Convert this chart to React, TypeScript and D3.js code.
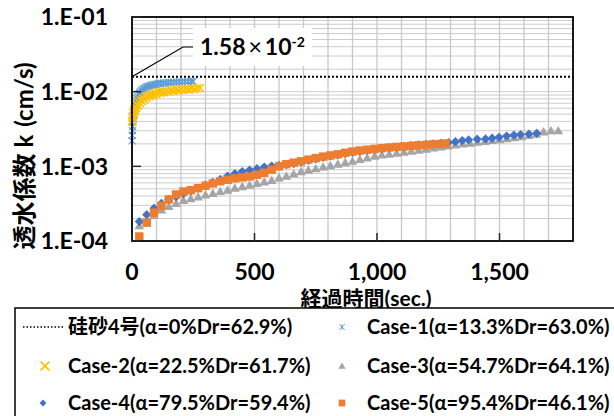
import React from "react";
import * as d3 from "d3";

// ---- data ----
const case1T = [0, 1, 2, 3, 4, 5, 6, 8, 10, 12, 14, 17, 20, 23, 27, 31, 35, 40, 45, 50, 56, 62, 69, 76, 84, 92, 100, 109, 118, 128, 138, 148, 159, 170, 181, 193, 205, 217, 229, 241, 250];
const case1K = [2.2e-3, 2.6e-3, 3.0e-3, 3.4e-3, 3.9e-3, 4.3e-3, 4.8e-3, 5.4e-3, 6.0e-3, 6.5e-3, 7.0e-3, 7.6e-3, 8.1e-3, 8.6e-3, 9.1e-3, 9.6e-3, 1.0e-2, 1.04e-2, 1.08e-2, 1.11e-2, 1.14e-2, 1.17e-2, 1.19e-2, 1.21e-2, 1.23e-2, 1.25e-2, 1.26e-2, 1.28e-2, 1.29e-2, 1.3e-2, 1.31e-2, 1.32e-2, 1.33e-2, 1.34e-2, 1.34e-2, 1.35e-2, 1.35e-2, 1.36e-2, 1.36e-2, 1.37e-2, 1.37e-2];

const case2T = [0, 2, 4, 6, 8, 10, 12, 15, 18, 21, 24, 28, 32, 36, 40, 45, 50, 55, 60, 66, 72, 78, 85, 92, 99, 107, 115, 123, 132, 141, 150, 160, 170, 180, 190, 200, 211, 222, 233, 244, 255, 266, 278];
const case2K = [4.0e-3, 4.6e-3, 4.4e-3, 5.2e-3, 5.0e-3, 5.7e-3, 5.5e-3, 6.2e-3, 6.0e-3, 6.7e-3, 6.5e-3, 7.2e-3, 7.0e-3, 7.7e-3, 7.5e-3, 8.1e-3, 7.9e-3, 8.5e-3, 8.3e-3, 8.9e-3, 8.7e-3, 9.2e-3, 9.0e-3, 9.5e-3, 9.3e-3, 9.8e-3, 9.6e-3, 1.0e-2, 9.8e-3, 1.02e-2, 1.0e-2, 1.04e-2, 1.02e-2, 1.06e-2, 1.04e-2, 1.08e-2, 1.06e-2, 1.09e-2, 1.07e-2, 1.1e-2, 1.08e-2, 1.11e-2, 1.12e-2];

const case3T = [30, 60, 90, 120, 150, 180, 210, 240, 270, 300, 330, 360, 390, 420, 450, 480, 510, 540, 570, 600, 630, 660, 690, 720, 750, 780, 810, 840, 870, 900, 930, 960, 990, 1020, 1050, 1080, 1110, 1140, 1170, 1200, 1230, 1260, 1290, 1320, 1350, 1380, 1410, 1440, 1470, 1500, 1530, 1560, 1590, 1620, 1650, 1680, 1710, 1740];
const case3K = [1.6e-4, 1.9e-4, 2.2e-4, 2.6e-4, 2.9e-4, 3.2e-4, 3.5e-4, 3.7e-4, 3.9e-4, 4.15e-4, 4.35e-4, 4.6e-4, 4.8e-4, 5.1e-4, 5.35e-4, 5.6e-4, 5.9e-4, 6.2e-4, 6.5e-4, 7.0e-4, 7.4e-4, 7.9e-4, 8.5e-4, 8.9e-4, 9.3e-4, 9.8e-4, 1.02e-3, 1.07e-3, 1.12e-3, 1.17e-3, 1.24e-3, 1.3e-3, 1.37e-3, 1.42e-3, 1.46e-3, 1.5e-3, 1.55e-3, 1.6e-3, 1.65e-3, 1.7e-3, 1.76e-3, 1.82e-3, 1.88e-3, 1.94e-3, 2.0e-3, 2.05e-3, 2.1e-3, 2.16e-3, 2.22e-3, 2.28e-3, 2.35e-3, 2.42e-3, 2.5e-3, 2.6e-3, 2.7e-3, 2.9e-3, 3.0e-3, 3.0e-3];

const case4T = [30, 60, 90, 120, 150, 180, 210, 240, 270, 300, 330, 360, 390, 420, 450, 480, 510, 540, 570, 600, 630, 660, 690, 720, 750, 780, 810, 840, 870, 900, 930, 960, 990, 1020, 1050, 1080, 1110, 1140, 1170, 1200, 1230, 1260, 1292, 1320, 1348, 1374, 1409, 1443, 1470, 1498, 1529, 1559, 1586, 1620, 1652];
const case4K = [1.82e-4, 2.25e-4, 2.75e-4, 3.2e-4, 3.6e-4, 3.9e-4, 4.3e-4, 4.7e-4, 5.1e-4, 5.6e-4, 6.1e-4, 6.7e-4, 7.4e-4, 8.0e-4, 8.5e-4, 8.9e-4, 9.3e-4, 9.8e-4, 1.01e-3, 1.03e-3, 1.05e-3, 1.09e-3, 1.14e-3, 1.2e-3, 1.26e-3, 1.32e-3, 1.37e-3, 1.42e-3, 1.48e-3, 1.54e-3, 1.59e-3, 1.64e-3, 1.68e-3, 1.72e-3, 1.76e-3, 1.8e-3, 1.84e-3, 1.9e-3, 1.94e-3, 1.97e-3, 2.0e-3, 2.03e-3, 2.08e-3, 2.14e-3, 2.21e-3, 2.26e-3, 2.31e-3, 2.33e-3, 2.38e-3, 2.45e-3, 2.55e-3, 2.61e-3, 2.66e-3, 2.71e-3, 2.77e-3];

const case5T = [30, 60, 90, 120, 150, 180, 210, 240, 270, 300, 330, 360, 390, 420, 450, 480, 510, 540, 570, 600, 630, 660, 690, 720, 750, 780, 810, 840, 870, 900, 930, 960, 990, 1020, 1050, 1080, 1110, 1140, 1170, 1200, 1230, 1260, 1280];
const case5K = [1.15e-4, 1.76e-4, 2.4e-4, 2.95e-4, 3.6e-4, 4.2e-4, 4.6e-4, 4.8e-4, 5.1e-4, 5.5e-4, 5.9e-4, 6.3e-4, 6.6e-4, 6.9e-4, 7.1e-4, 7.3e-4, 7.7e-4, 8.2e-4, 9.0e-4, 1.0e-3, 1.07e-3, 1.12e-3, 1.17e-3, 1.23e-3, 1.29e-3, 1.35e-3, 1.4e-3, 1.45e-3, 1.52e-3, 1.58e-3, 1.63e-3, 1.67e-3, 1.71e-3, 1.75e-3, 1.79e-3, 1.82e-3, 1.85e-3, 1.88e-3, 1.91e-3, 1.94e-3, 1.97e-3, 2.0e-3, 2.02e-3];

const silicaK = 1.58e-2;
const yTickLabels = ["1.E-01", "1.E-02", "1.E-03", "1.E-04"];
const yTickValues = [1e-1, 1e-2, 1e-3, 1e-4];
const xTickValues = [0, 500, 1000, 1500];
const legendLabels = [
  "硅砂4号(α=0%Dr=62.9%)",
  "Case-1(α=13.3%Dr=63.0%)",
  "Case-2(α=22.5%Dr=61.7%)",
  "Case-3(α=54.7%Dr=64.1%)",
  "Case-4(α=79.5%Dr=59.4%)",
  "Case-5(α=95.4%Dr=46.1%)",
];

const FONT = "Lato, 'Noto Sans CJK JP', sans-serif";

type Kind = "star" | "x" | "tri" | "dia" | "sq";

const series: { t: number[]; k: number[]; kind: Kind; color: string }[] = [
  { t: case1T, k: case1K, kind: "star", color: "#5B9BD5" },
  { t: case2T, k: case2K, kind: "x", color: "#FFC000" },
  { t: case3T, k: case3K, kind: "tri", color: "#A5A5A5" },
  { t: case4T, k: case4K, kind: "dia", color: "#4472C4" },
  { t: case5T, k: case5K, kind: "sq", color: "#ED7D31" },
];

function Marker({ kind, color, x, y, s = 1 }: { kind: Kind; color: string; x: number; y: number; s?: number }) {
  const tr = `translate(${x},${y}) scale(${s})`;
  if (kind === "star")
    return <path transform={tr} d="M-3.5,-3.5L3.5,3.5M-3.5,3.5L3.5,-3.5M0,-3.8L0,3.8" stroke={color} strokeWidth={1.1} fill="none" />;
  if (kind === "x")
    return <path transform={tr} d="M-4,-4L4,4M-4,4L4,-4" stroke={color} strokeWidth={1.5} fill="none" />;
  if (kind === "tri") return <path transform={tr} d="M0,-4.8L4.8,3.6L-4.8,3.6Z" fill={color} />;
  if (kind === "dia") return <path transform={tr} d="M0,-4.6L4.6,0L0,4.6L-4.6,0Z" fill={color} />;
  return <rect transform={tr} x={-4.2} y={-4.2} width={8.4} height={8.4} fill={color} />;
}

export default function App() {
  const left = 132, right = 573, top = 17, bottom = 241;
  const x = d3.scaleLinear().domain([0, 1800]).range([left, right]);
  const y = d3.scaleLog().domain([1e-4, 1e-1]).range([bottom, top]);

  const minorY: number[] = [];
  for (let e = -4; e < -1; e++) for (let m = 1; m <= 9; m++) minorY.push(m * Math.pow(10, e));
  const gridX = d3.range(100, 1800, 100);

  const yS = y(silicaK);

  return (
    <svg width={614} height={416} style={{ position: "absolute", left: 0, top: 0, background: "#fff" }} fontFamily={FONT} fontWeight="bold">
      <rect width={614} height={416} fill="#fff" />
      {/* grid */}
      {minorY.map((v, i) => (
        <line key={"gy" + i} x1={left} x2={right} y1={y(v)} y2={y(v)} stroke="#CCCCCC" strokeWidth={1} />
      ))}
      {gridX.map((v) => (
        <line key={"gx" + v} x1={x(v)} x2={x(v)} y1={top} y2={bottom} stroke="#C8C8C8" strokeWidth={1.3} />
      ))}

      {/* annotation box */}
      <rect x={193} y={28} width={119} height={38} fill="#fff" />

      {/* series */}
      {series.map((s, si) => (
        <g key={"s" + si}>
          {s.t.map((t, i) => (
            <Marker key={i} kind={s.kind} color={s.color} x={x(t)} y={y(s.k[i])} />
          ))}
        </g>
      ))}

      {/* silica reference line */}
      <line x1={left} x2={right} y1={yS} y2={yS} stroke="#000" strokeWidth={2} strokeDasharray="2,2" />

      {/* frame and ticks */}
      <rect x={left} y={top} width={right - left} height={bottom - top} fill="none" stroke="#000" strokeWidth={1.8} />
      {yTickValues.map((v) => (
        <line key={"ty" + v} x1={left} x2={left + 9} y1={y(v)} y2={y(v)} stroke="#262626" strokeWidth={1.5} />
      ))}
      {xTickValues.map((v) => (
        <line key={"tx" + v} x1={x(v)} x2={x(v)} y1={bottom} y2={bottom - 8} stroke="#262626" strokeWidth={1.5} />
      ))}

      {/* tick labels */}
      {yTickValues.map((v, i) => (
        <text key={"ly" + v} x={108} y={y(v)} dy="0.36em" textAnchor="end" fontSize={23}>
          {yTickLabels[i]}
        </text>
      ))}
      {xTickValues.map((v) => (
        <text key={"lx" + v} x={x(v)} y={272} dy="0.36em" textAnchor="middle" fontSize={23}>
          {d3.format(",")(v)}
        </text>
      ))}

      {/* annotation */}
      <polyline points={`${left},${yS} 183,47 193,47`} fill="none" stroke="#000" strokeWidth={1.2} />
      <text x={200} y={47} dy="0.36em" fontSize={23}>
        1.58<tspan dx={3} fontWeight="normal">×</tspan>
        <tspan dx={3}>10</tspan>
        <tspan dy={-8} fontSize={14}>-2</tspan>
      </text>

      {/* axis titles */}
      <text x={366} y={298} dy="0.36em" textAnchor="middle" fontSize={21}>
        経過時間(sec.)
      </text>
      <text transform="translate(24,156) rotate(-90)" textAnchor="middle" dy="0.36em" fontSize={24}>
        透水係数<tspan dx={6}>k</tspan><tspan dx={8}>(cm/s)</tspan>
      </text>

      {/* legend */}
      <rect x={15} y={308} width={620} height={140} fill="#fff" stroke="#000" strokeWidth={1.5} />
      <line x1={23} x2={63} y1={327} y2={327} stroke="#000" strokeWidth={1.5} strokeDasharray="1.5,2" />
      <text x={68} y={327} dy="0.36em" fontSize={20}>{legendLabels[0]}</text>
      <Marker kind="star" color="#5B9BD5" x={342} y={327} s={0.8} />
      <text x={367} y={327} dy="0.36em" fontSize={20}>{legendLabels[1]}</text>
      <Marker kind="x" color="#FFC000" x={45} y={366} s={1.1} />
      <text x={68} y={366} dy="0.36em" fontSize={20}>{legendLabels[2]}</text>
      <Marker kind="tri" color="#A5A5A5" x={342} y={366} s={0.75} />
      <text x={367} y={366} dy="0.36em" fontSize={20}>{legendLabels[3]}</text>
      <Marker kind="dia" color="#4472C4" x={43} y={403} s={0.75} />
      <text x={68} y={403} dy="0.36em" fontSize={20}>{legendLabels[4]}</text>
      <Marker kind="sq" color="#ED7D31" x={342} y={403} s={0.8} />
      <text x={367} y={403} dy="0.36em" fontSize={20}>{legendLabels[5]}</text>
    </svg>
  );
}
